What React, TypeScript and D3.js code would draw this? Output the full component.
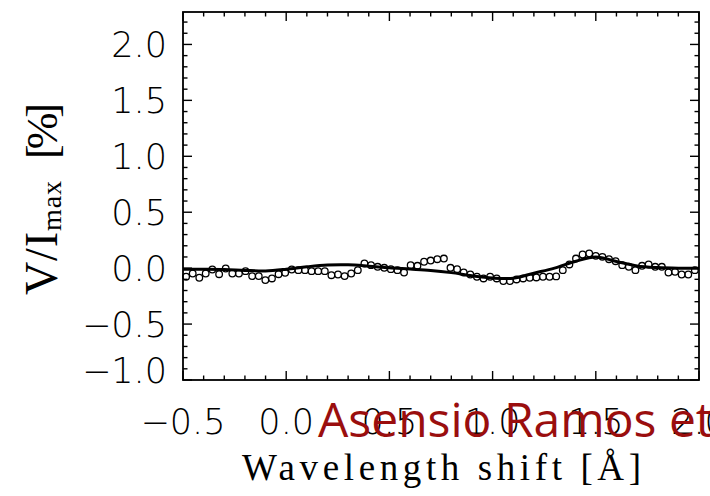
import React from 'react';
import * as d3 from 'd3';

// Observed Stokes V / I_max [%] versus wavelength shift [Å]
const wavelength = [
  -0.485, -0.453, -0.421, -0.39, -0.358, -0.325, -0.293, -0.261, -0.229, -0.197,
  -0.165, -0.133, -0.101, -0.069, -0.037, -0.005, 0.027, 0.059, 0.091, 0.123,
  0.155, 0.187, 0.219, 0.251, 0.283, 0.315, 0.347, 0.379, 0.411, 0.443,
  0.475, 0.507, 0.539, 0.571, 0.603, 0.636, 0.668, 0.7, 0.732, 0.764,
  0.796, 0.828, 0.86, 0.892, 0.924, 0.956, 0.988, 1.02, 1.052, 1.084,
  1.116, 1.148, 1.18, 1.212, 1.244, 1.276, 1.308, 1.34, 1.372, 1.404,
  1.436, 1.468, 1.5, 1.532, 1.564, 1.596, 1.628, 1.66, 1.692, 1.724,
  1.756, 1.788, 1.82, 1.852, 1.884, 1.916, 1.948, 1.98,
];
const stokesV = [
  -0.077, -0.048, -0.086, -0.048, -0.012, -0.054, -0.003, -0.048, -0.048, -0.027,
  -0.071, -0.071, -0.107, -0.092, -0.054, -0.042, -0.012, -0.018, -0.018, -0.027,
  -0.027, -0.027, -0.063, -0.057, -0.071, -0.048, -0.018, 0.042, 0.027, 0.012,
  0.003, -0.009, -0.018, -0.039, 0.027, 0.021, 0.057, 0.068, 0.08, 0.086,
  0.003, -0.009, -0.039, -0.057, -0.077, -0.092, -0.077, -0.092, -0.116, -0.116,
  -0.101, -0.092, -0.086, -0.083, -0.077, -0.077, -0.074, -0.018, 0.033, 0.086,
  0.122, 0.131, 0.11, 0.101, 0.08, 0.062, 0.027, 0.012, -0.018, 0.021,
  0.033, 0.012, 0.012, -0.039, -0.033, -0.057, -0.057, -0.018,
];

// Fitted profile
const fitWavelength = [
  -0.5, -0.4, -0.3, -0.2, -0.1, 0.0, 0.1, 0.2, 0.3, 0.4, 0.5, 0.6, 0.7,
  0.8, 0.9, 1.0, 1.1, 1.2, 1.3, 1.4, 1.5, 1.6, 1.7, 1.8, 1.9, 2.0,
];
const fitV = [
  -0.01, -0.01, -0.012, -0.02, -0.025, -0.01, 0.012, 0.028, 0.03, 0.018, 0.003, -0.008, -0.02,
  -0.04, -0.068, -0.088, -0.09, -0.045, 0.0, 0.06, 0.1, 0.06, 0.02, 0.005, 0.0, 0.0,
];

const xTickValues = [-0.5, 0.0, 0.5, 1.0, 1.5, 2.0];
const xTickLabels = ['\u22120.5', '0.0', '0.5', '1.0', '1.5', '2.0'];
const yTickValues = [-1.0, -0.5, 0.0, 0.5, 1.0, 1.5, 2.0];
const yTickLabels = ['\u22121.0', '\u22120.5', '0.0', '0.5', '1.0', '1.5', '2.0'];
const xMinorTicks = d3.range(-5, 21).map((i) => i / 10);
const yMinorTicks = d3.range(-10, 23).map((i) => i / 10);

export default function App() {
  const W = 710;
  const H = 496;
  const left = 183;
  const right = 699;
  const top = 12;
  const bottom = 380;
  const x = d3.scaleLinear().domain([-0.5, 2.0]).range([left, right]);
  const y = d3.scaleLinear().domain([-1.0, 2.29]).range([bottom, top]);

  const line = d3
    .line<number>()
    .x((d, i) => x(fitWavelength[i]))
    .y((d) => y(d))
    .curve(d3.curveCatmullRom.alpha(0.5));

  const majorLen = 9;
  const minorLen = 4.5;
  const tickFont = '"DejaVu Sans", sans-serif';
  const serif = '"Liberation Serif", serif';

  return (
    <svg
      width={W}
      height={H}
      style={{ position: 'absolute', left: 0, top: 0, background: '#fff' }}
    >
      <rect x={0} y={0} width={W} height={H} fill="#fff" />
      {/* ticks */}
      <g stroke="#000" strokeWidth={1.4}>
        {xMinorTicks.map((v) => {
          const len = xTickValues.some((t) => Math.abs(t - v) < 1e-6) ? majorLen : minorLen;
          return (
            <g key={'xt' + v}>
              <line x1={x(v)} x2={x(v)} y1={bottom} y2={bottom - len} />
              <line x1={x(v)} x2={x(v)} y1={top} y2={top + len} />
            </g>
          );
        })}
        {yMinorTicks.map((v) => {
          const len = yTickValues.some((t) => Math.abs(t - v) < 1e-6) ? majorLen : minorLen;
          return (
            <g key={'yt' + v}>
              <line x1={left} x2={left + len} y1={y(v)} y2={y(v)} />
              <line x1={right} x2={right - len} y1={y(v)} y2={y(v)} />
            </g>
          );
        })}
      </g>
      <rect
        x={left}
        y={top}
        width={right - left}
        height={bottom - top}
        fill="none"
        stroke="#000"
        strokeWidth={1.8}
      />
      {/* data */}
      <path d={line(fitV) || ''} fill="none" stroke="#000" strokeWidth={3} />
      <g fill="none" stroke="#000" strokeWidth={1.3}>
        {stokesV.map((v, i) => (
          <circle key={'p' + i} cx={x(wavelength[i])} cy={y(v)} r={3.3} />
        ))}
      </g>
      {/* y tick labels */}
      <g fontFamily={tickFont} fontSize={35} fontWeight={200} fill="#000">
        {yTickValues.map((v, i) => (
          <text
            key={'yl' + v}
            x={167}
            y={Math.min(y(v), 370) + 13}
            textAnchor="end"
          >
            {yTickLabels[i]}
          </text>
        ))}
      </g>
      {/* x tick labels */}
      <g fontFamily={tickFont} fontSize={35} fontWeight={200} fill="#000">
        {xTickValues.map((v, i) => (
          <text key={'xl' + v} x={x(v)} y={434} textAnchor="middle">
            {xTickLabels[i]}
          </text>
        ))}
      </g>
      {/* axis titles */}
      <text
        x={242}
        y={480}
        fontFamily={serif}
        fontSize={37}
        fill="#000"
        textLength={399}
        lengthAdjust="spacing"
      >
        Wavelength shift [Å]
      </text>
      <g fontFamily={serif} fill="#000">
        <text
          transform="translate(57,295) rotate(-90)"
          fontSize={46}
          textLength={63}
          lengthAdjust="spacing"
        >
          V/I
        </text>
        <text
          transform="translate(61,231) rotate(-90)"
          fontSize={28}
          textLength={50}
          lengthAdjust="spacing"
        >
          max
        </text>
        <text
          transform="translate(57,159) rotate(-90)"
          fontSize={44}
          textLength={56}
          lengthAdjust="spacing"
        >
          [%]
        </text>
      </g>
      {/* overlay credit */}
      <text
        x={318}
        y={437}
        fontFamily='"Open Sans", sans-serif'
        fontSize={48}
        fill="#9a0e0e"
      >
        Asensio Ramos et al.
      </text>
    </svg>
  );
}
